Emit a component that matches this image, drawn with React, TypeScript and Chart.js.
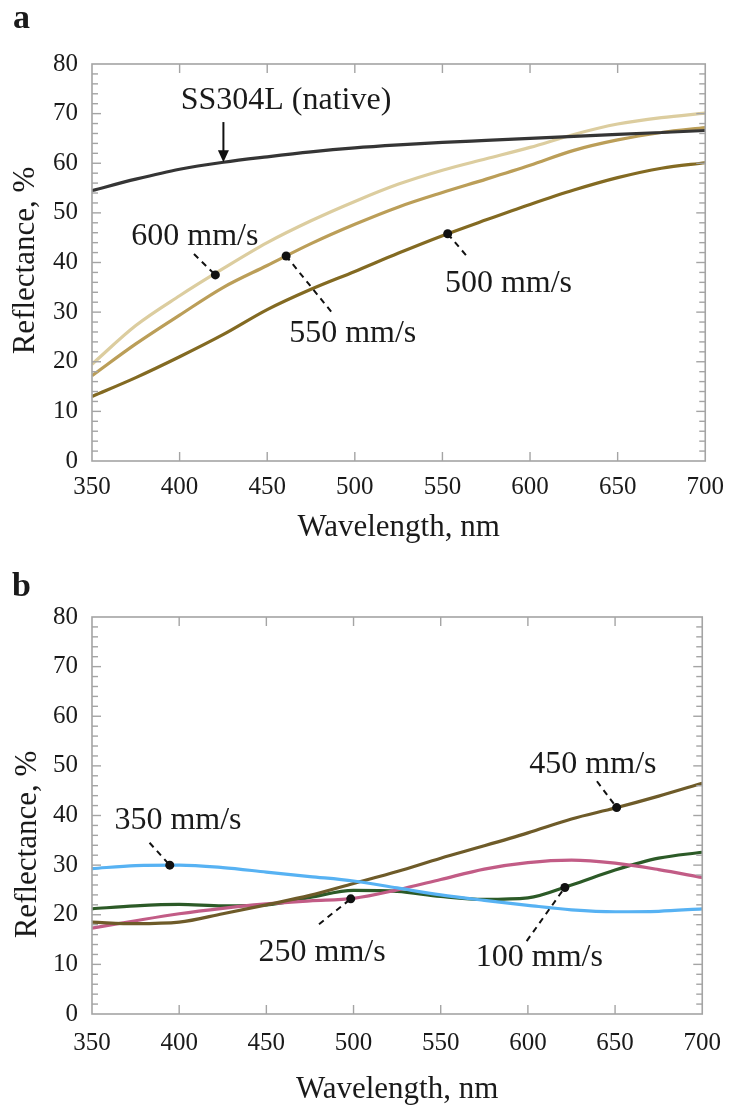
import React, { useEffect, useRef } from "react";
import { Chart, registerables } from "chart.js";

Chart.register(...registerables);

// ---------- data ----------
const wavelengths = [350, 375, 400, 425, 450, 475, 500, 525, 550, 575, 600, 625, 650, 675, 700];

// panel a
const nativeSS304L = [54.5, 56.8, 58.8, 60.2, 61.3, 62.3, 63.1, 63.7, 64.2, 64.6, 65.0, 65.4, 65.8, 66.2, 66.6];
const speed600 = [19.5, 27.3, 33.3, 38.8, 44.0, 48.4, 52.3, 55.8, 58.6, 60.9, 63.2, 65.8, 67.9, 69.2, 70.1];
const speed550 = [17.2, 23.6, 29.4, 35.0, 39.4, 43.8, 47.7, 51.2, 54.1, 56.8, 59.6, 62.6, 64.7, 66.2, 67.2];
const speed500 = [13.0, 16.8, 21.0, 25.5, 30.5, 34.6, 38.2, 41.9, 45.4, 48.6, 51.7, 54.6, 57.1, 59.0, 60.1];

// panel b
const speed350 = [29.3, 29.9, 30.0, 29.5, 28.6, 27.7, 26.8, 25.4, 24.0, 22.9, 21.9, 21.0, 20.6, 20.7, 21.2];
const speed450 = [18.5, 18.2, 18.5, 20.2, 22.0, 23.9, 26.3, 28.7, 31.4, 33.9, 36.5, 39.3, 41.5, 43.9, 46.5];
const speed250 = [17.3, 18.8, 20.2, 21.3, 22.2, 22.8, 23.3, 25.0, 27.1, 29.2, 30.5, 31.0, 30.4, 29.1, 27.5];
const speed100 = [21.2, 21.8, 22.1, 21.8, 22.0, 23.5, 24.9, 24.7, 23.7, 23.1, 23.4, 26.0, 29.0, 31.4, 32.6];

const xRange = [350, 700];
const yRange = [0, 80];
const xStep = 50;
const yStep = 10;
const yMinorStep = 2;
const xTitle = "Wavelength, nm";
const yTitle = "Reflectance, %";

// annotation labels: text, label position, leader from -> to (data units)
const notesA = [
  { text: "SS304L (native)", at: [460.7, 72.6], from: [425, 68.3], to: [425, 60.2], kind: "arrow" },
  { text: "600 mm/s", at: [408.7, 45.3], from: [408.2, 41.7], to: [420.4, 37.5], kind: "dot" },
  { text: "550 mm/s", at: [498.8, 25.6], from: [486.5, 30.1], to: [460.8, 41.3], kind: "dot" },
  { text: "500 mm/s", at: [587.7, 35.7], from: [563.4, 41.5], to: [553.0, 45.8], kind: "dot" },
];
const notesB = [
  { text: "350 mm/s", at: [399.3, 39.0], from: [383.0, 34.5], to: [394.6, 30.0], kind: "dot" },
  { text: "450 mm/s", at: [637.3, 50.2], from: [639.6, 46.9], to: [650.9, 41.6], kind: "dot" },
  { text: "250 mm/s", at: [482.0, 12.3], from: [480.2, 18.1], to: [498.4, 23.2], kind: "dot" },
  { text: "100 mm/s", at: [606.6, 11.3], from: [599.3, 14.7], to: [621.2, 25.5], kind: "dot" },
];

const FONT = '"Liberation Serif", "Times New Roman", Times, serif';
const AXIS_COLOR = "#a4a4a4";
const TEXT_COLOR = "#1a1a1a";

const decorPlugin = {
  id: "panelDecor",
  afterDatasetsDraw(chart: any, _args: any, opts: any) {
    const { ctx, chartArea: a, scales } = chart;
    const xs = scales.x;
    const ys = scales.y;
    const line = (x1: number, y1: number, x2: number, y2: number) => {
      ctx.beginPath();
      ctx.moveTo(x1, y1);
      ctx.lineTo(x2, y2);
      ctx.stroke();
    };
    ctx.save();
    // frame
    ctx.strokeStyle = AXIS_COLOR;
    ctx.lineWidth = 1.6;
    ctx.strokeRect(a.left, a.top, a.right - a.left, a.bottom - a.top);
    ctx.lineWidth = 1.4;
    const MAJOR = 9;
    const MINOR = 6;
    const nx = Math.round((xRange[1] - xRange[0]) / xStep);
    for (let i = 1; i < nx; i++) {
      const px = xs.getPixelForValue(xRange[0] + i * xStep);
      line(px, a.bottom, px, a.bottom - MAJOR);
      line(px, a.top, px, a.top + MAJOR);
    }
    const ny = Math.round((yRange[1] - yRange[0]) / yMinorStep);
    const per = Math.round(yStep / yMinorStep);
    for (let i = 1; i < ny; i++) {
      const py = ys.getPixelForValue(yRange[0] + i * yMinorStep);
      const len = i % per === 0 ? MAJOR : MINOR;
      line(a.left, py, a.left + len, py);
      line(a.right, py, a.right - len, py);
    }
    // annotations
    ctx.strokeStyle = "#111";
    for (const n of opts.notes) {
      const x1 = xs.getPixelForValue(n.from[0]);
      const y1 = ys.getPixelForValue(n.from[1]);
      const x2 = xs.getPixelForValue(n.to[0]);
      const y2 = ys.getPixelForValue(n.to[1]);
      if (n.kind === "arrow") {
        ctx.setLineDash([]);
        ctx.lineWidth = 2;
        const head = 12;
        line(x1, y1, x2, y2 - head + 1);
        ctx.fillStyle = "#111";
        ctx.beginPath();
        ctx.moveTo(x2, y2);
        ctx.lineTo(x2 - 5.5, y2 - head);
        ctx.lineTo(x2 + 5.5, y2 - head);
        ctx.closePath();
        ctx.fill();
      } else {
        ctx.setLineDash([6, 5]);
        ctx.lineWidth = 2;
        line(x1, y1, x2, y2);
        ctx.setLineDash([]);
        ctx.fillStyle = "#111";
        ctx.beginPath();
        ctx.arc(x2, y2, 4.5, 0, Math.PI * 2);
        ctx.fill();
      }
      ctx.fillStyle = TEXT_COLOR;
      ctx.font = `32px ${FONT}`;
      ctx.textAlign = "center";
      ctx.textBaseline = "middle";
      ctx.fillText(n.text, xs.getPixelForValue(n.at[0]), ys.getPixelForValue(n.at[1]));
    }
    // axis titles
    ctx.fillStyle = TEXT_COLOR;
    ctx.font = `31px ${FONT}`;
    ctx.textAlign = "center";
    ctx.textBaseline = "middle";
    ctx.fillText(xTitle, (a.left + a.right) / 2, a.bottom + opts.xTitleOffset);
    ctx.save();
    ctx.translate(opts.yTitleX, (a.top + a.bottom) / 2 + opts.yTitleShift);
    ctx.rotate(-Math.PI / 2);
    ctx.fillText(yTitle, 0, 0);
    ctx.restore();
    // panel letter
    ctx.font = `bold 34px ${FONT}`;
    ctx.textAlign = "left";
    ctx.textBaseline = "alphabetic";
    ctx.fillText(opts.letter, opts.letterX, opts.letterY);
    ctx.restore();
  },
};

type Series = { label: string; values: number[]; color: string };

function buildConfig(series: Series[], decor: any, tickPadX: number) {
  return {
    type: "line" as const,
    data: {
      datasets: series.map((s) => ({
        label: s.label,
        data: wavelengths.map((w, i) => ({ x: w, y: s.values[i] })),
        borderColor: s.color,
        backgroundColor: s.color,
        borderWidth: 3.2,
        pointRadius: 0,
        cubicInterpolationMode: "monotone" as const,
        fill: false,
      })),
    },
    options: {
      animation: false as const,
      responsive: false,
      maintainAspectRatio: false,
      layout: { padding: { left: 0, right: 23, top: 64, bottom: 0 } },
      plugins: {
        legend: { display: false },
        tooltip: { enabled: false },
        panelDecor: decor,
      },
      scales: {
        x: {
          type: "linear" as const,
          min: xRange[0],
          max: xRange[1],
          ticks: { stepSize: xStep, color: TEXT_COLOR, font: { family: FONT, size: 25 }, padding: tickPadX },
          grid: { display: false, drawTicks: false },
          border: { display: false },
          afterFit: (s: any) => {
            s.height = 92;
          },
        },
        y: {
          type: "linear" as const,
          min: yRange[0],
          max: yRange[1],
          ticks: { stepSize: yStep, color: TEXT_COLOR, font: { family: FONT, size: 25 }, padding: 14 },
          grid: { display: false, drawTicks: false },
          border: { display: false },
          afterFit: (s: any) => {
            s.width = 92;
          },
        },
      },
    },
    plugins: [decorPlugin],
  };
}

function Panel(props: { series: Series[]; decor: any; tickPadX: number }) {
  const ref = useRef<HTMLCanvasElement | null>(null);
  useEffect(() => {
    if (!ref.current) return;
    const chart = new Chart(ref.current, buildConfig(props.series, props.decor, props.tickPadX) as any);
    return () => chart.destroy();
  }, []);
  return <canvas ref={ref} width={735} height={553} style={{ display: "block", width: 735, height: 553 }} />;
}

const seriesA: Series[] = [
  { label: "SS304L (native)", values: nativeSS304L, color: "#353535" },
  { label: "600 mm/s", values: speed600, color: "#dccd9f" },
  { label: "550 mm/s", values: speed550, color: "#bb9e58" },
  { label: "500 mm/s", values: speed500, color: "#836a22" },
];
const seriesB: Series[] = [
  { label: "350 mm/s", values: speed350, color: "#57b2f3" },
  { label: "450 mm/s", values: speed450, color: "#6e5b29" },
  { label: "250 mm/s", values: speed250, color: "#c25c86" },
  { label: "100 mm/s", values: speed100, color: "#2c5a27" },
];

export default function App() {
  return (
    <div style={{ position: "absolute", left: 0, top: 0, width: 735, height: 1106, background: "#fff" }}>
      <Panel
        series={seriesA}
        tickPadX={11}
        decor={{ notes: notesA, letter: "a", letterX: 13, letterY: 28, xTitleOffset: 67, yTitleX: 26, yTitleShift: -2 }}
      />
      <Panel
        series={seriesB}
        tickPadX={14}
        decor={{ notes: notesB, letter: "b", letterX: 12, letterY: 43, xTitleOffset: 76, yTitleX: 28, yTitleShift: 29 }}
      />
    </div>
  );
}
